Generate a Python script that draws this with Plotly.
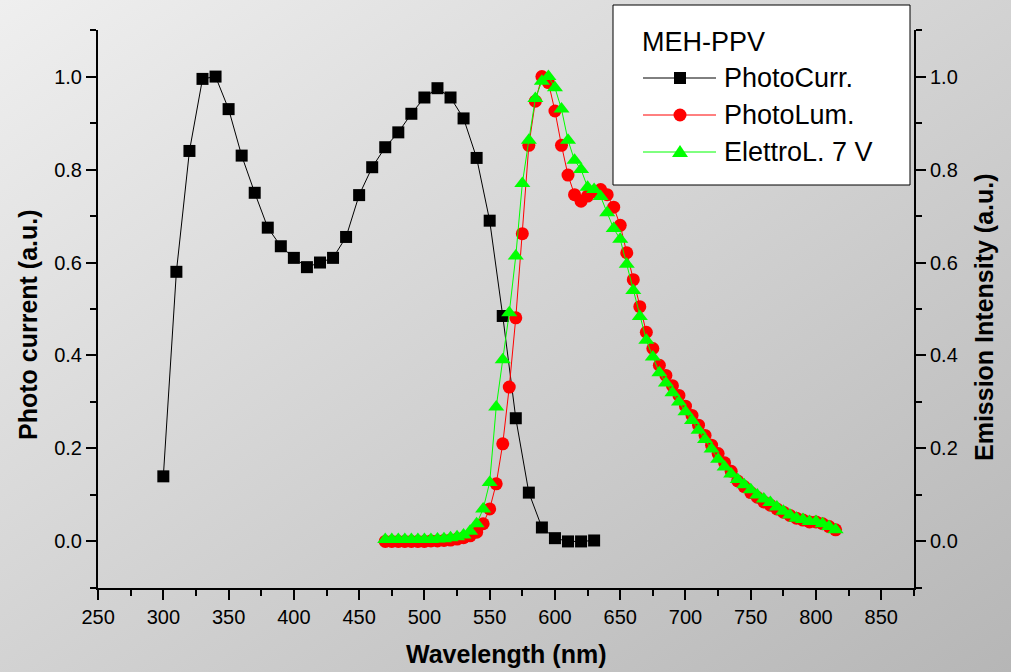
import base64
import plotly.graph_objects as go

# ---------------- data ----------------
pc_wavelength = [300, 310, 320, 330, 340, 350, 360, 370, 380, 390, 400, 410, 420, 430,
                 440, 450, 460, 470, 480, 490, 500, 510, 520, 530, 540, 550, 560, 570,
                 580, 590, 600, 610, 620, 630]
pc_values = [0.14, 0.58, 0.84, 0.995, 1.0, 0.93, 0.83, 0.75, 0.675, 0.635, 0.61, 0.59, 0.60,
             0.61, 0.655, 0.745, 0.805, 0.848, 0.88, 0.92, 0.955, 0.975, 0.955, 0.91, 0.825,
             0.69, 0.485, 0.265, 0.105, 0.03, 0.007, 0.0, 0.0, 0.002]

em_wavelength = [470, 475, 480, 485, 490, 495, 500, 505, 510, 515, 520, 525, 530, 535, 540,
                 545, 550, 555, 560, 565, 570, 575, 580, 585, 590, 595, 600, 605, 610, 615,
                 620, 625, 630, 635, 640, 645, 650, 655, 660, 665, 670, 675, 680, 685, 690,
                 695, 700, 705, 710, 715, 720, 725, 730, 735, 740, 745, 750, 755, 760, 765,
                 770, 775, 780, 785, 790, 795, 800, 805, 810, 815]
pl_values = [0.0, 0.0, 0.0, 0.0, 0.0, 0.0, 0.0, 0.001, 0.001, 0.002, 0.003, 0.005, 0.008,
             0.012, 0.02, 0.038, 0.07, 0.124, 0.21, 0.332, 0.481, 0.662, 0.852, 0.947, 1.0,
             0.987, 0.926, 0.852, 0.788, 0.746, 0.732, 0.743, 0.752, 0.757, 0.746, 0.719,
             0.68, 0.621, 0.563, 0.505, 0.45, 0.415, 0.379, 0.357, 0.335, 0.314, 0.291,
             0.271, 0.25, 0.228, 0.207, 0.189, 0.169, 0.151, 0.13, 0.118, 0.105, 0.095,
             0.085, 0.078, 0.07, 0.063, 0.056, 0.05, 0.046, 0.042, 0.042, 0.038, 0.032, 0.025]
el_values = [0.004, 0.004, 0.004, 0.004, 0.004, 0.004, 0.004, 0.004, 0.005, 0.006, 0.008,
             0.01, 0.014, 0.022, 0.038, 0.07, 0.127, 0.289, 0.391, 0.492, 0.614, 0.77, 0.863,
             0.953, 0.99, 1.0, 0.976, 0.93, 0.863, 0.82, 0.80, 0.762, 0.757, 0.742, 0.707,
             0.673, 0.65, 0.596, 0.54, 0.484, 0.433, 0.397, 0.363, 0.341, 0.32, 0.30, 0.279,
             0.26, 0.239, 0.219, 0.199, 0.177, 0.16, 0.145, 0.133, 0.122, 0.111, 0.10, 0.091,
             0.084, 0.074, 0.065, 0.057, 0.05, 0.047, 0.043, 0.043, 0.038, 0.032, 0.025]

series_names = ["PhotoCurr.", "PhotoLum.", "ElettroL. 7 V"]
legend_title = "MEH-PPV"
x_title = "Wavelength (nm)"
y_title_left = "Photo current (a.u.)"
y_title_right = "Emission Intensity (a.u.)"

# ---------------- layout geometry ----------------
W, H = 1011, 672
L, R, T, B = 98, 914, 30, 588  # plot area in pixels
FONT = "Liberation Sans, Arial, sans-serif"


def px(x):
    return (x - L) / (R - L)


def py(y):
    return (B - y) / (B - T)


fig = go.Figure()

fig.add_trace(go.Scatter(
    x=pc_wavelength, y=pc_values, name=series_names[0], mode="lines+markers",
    line=dict(color="black", width=1),
    marker=dict(symbol="square", size=12, color="black"),
    showlegend=False, cliponaxis=False))
fig.add_trace(go.Scatter(
    x=em_wavelength, y=pl_values, name=series_names[1], mode="lines+markers",
    yaxis="y2",
    line=dict(color="#ff0000", width=1),
    marker=dict(symbol="circle", size=13, color="#ff0000"),
    showlegend=False, cliponaxis=False))
fig.add_trace(go.Scatter(
    x=em_wavelength, y=el_values, name=series_names[2], mode="lines+markers",
    yaxis="y2",
    line=dict(color="#00ff00", width=1),
    marker=dict(symbol="triangle-up", size=14, color="#00ff00"),
    showlegend=False, cliponaxis=False))

axis_common = dict(
    showline=True, linecolor="black", linewidth=2,
    ticks="outside", ticklen=10, tickwidth=2, tickcolor="black",
    showgrid=False, zeroline=False,
    tickfont=dict(family=FONT, size=20, color="black"),
)

yrange = [-0.1002, 1.1002]

fig.update_layout(
    width=W, height=H,
    margin=dict(l=L, r=W - R, t=T, b=H - B, pad=0),
    paper_bgcolor="#d4d4d4",
    plot_bgcolor="rgba(0,0,0,0)",
    showlegend=False,
    xaxis=dict(range=[249.95, 875.05], tick0=250, dtick=50,
               minor=dict(dtick=25, tick0=250, ticks="outside", ticklen=6,
                          tickwidth=2, tickcolor="black", showgrid=False),
               ticklabelstandoff=0,
               **axis_common),
    yaxis=dict(range=yrange, tick0=0, dtick=0.2, tickformat=".1f",
               minor=dict(dtick=0.1, tick0=0, ticks="outside", ticklen=6,
                          tickwidth=2, tickcolor="black", showgrid=False),
               ticklabelstandoff=0,
               **axis_common),
    yaxis2=dict(range=yrange, tick0=0, dtick=0.2, tickformat=".1f",
                overlaying="y", side="right", anchor="x",
                minor=dict(dtick=0.1, tick0=0, ticks="outside", ticklen=6,
                           tickwidth=2, tickcolor="black", showgrid=False),
                ticklabelstandoff=0,
                **axis_common),
)

# gradient background
svg = ('<svg xmlns="http://www.w3.org/2000/svg" width="1011" height="672">'
       '<defs><linearGradient id="g" x1="0" y1="0" x2="1" y2="1">'
       '<stop offset="0" stop-color="#efefef"/>'
       '<stop offset="1" stop-color="#b6b6b6"/>'
       '</linearGradient></defs>'
       '<rect width="1011" height="672" fill="url(#g)"/></svg>')
uri = "data:image/svg+xml;base64," + base64.b64encode(svg.encode()).decode()
fig.add_layout_image(dict(
    source=uri, xref="paper", yref="paper",
    x=px(0), y=py(0), sizex=W / (R - L), sizey=H / (B - T),
    xanchor="left", yanchor="top", sizing="stretch", layer="below", opacity=1))

# axis titles
title_font = dict(family=FONT, size=25, color="black")
fig.add_annotation(text="<b>%s</b>" % x_title, xref="paper", yref="paper",
                   x=px(506), y=py(654), xanchor="center", yanchor="middle",
                   showarrow=False, font=title_font)
fig.add_annotation(text="<b>%s</b>" % y_title_left, xref="paper", yref="paper",
                   x=px(28), y=py(325), xanchor="center", yanchor="middle",
                   textangle=-90, showarrow=False, font=title_font)
fig.add_annotation(text="<b>%s</b>" % y_title_right, xref="paper", yref="paper",
                   x=px(984), y=py(317), xanchor="center", yanchor="middle",
                   textangle=-90, showarrow=False, font=title_font)

# custom legend box
fig.add_shape(type="rect", xref="paper", yref="paper",
              x0=px(613), x1=px(910), y0=py(185), y1=py(5),
              line=dict(color="black", width=1), fillcolor="white", layer="above")
leg_font = dict(family=FONT, size=27, color="black")
fig.add_annotation(text=legend_title, xref="paper", yref="paper",
                   x=px(640), y=py(42), xanchor="left", yanchor="middle",
                   showarrow=False, font=leg_font)
rows = [78, 115, 152]
colors = ["black", "#ff0000", "#00ff00"]
for i, (name, col, ry) in enumerate(zip(series_names, colors, rows)):
    fig.add_shape(type="line", xref="paper", yref="paper",
                  x0=px(643), x1=px(716), y0=py(ry), y1=py(ry),
                  line=dict(color=col, width=1), layer="above")
    if i == 0:
        fig.add_shape(type="rect", xref="paper", yref="paper",
                      xsizemode="pixel", ysizemode="pixel",
                      xanchor=px(680), yanchor=py(ry),
                      x0=-6, x1=6, y0=-6, y1=6,
                      line=dict(width=0), fillcolor=col, layer="above")
    elif i == 1:
        fig.add_shape(type="circle", xref="paper", yref="paper",
                      xsizemode="pixel", ysizemode="pixel",
                      xanchor=px(680), yanchor=py(ry),
                      x0=-6.5, x1=6.5, y0=-6.5, y1=6.5,
                      line=dict(width=0), fillcolor=col, layer="above")
    else:
        fig.add_shape(type="path", xref="paper", yref="paper",
                      xsizemode="pixel", ysizemode="pixel",
                      xanchor=px(680), yanchor=py(ry),
                      path="M-8,-5 L8,-5 L0,7 Z",
                      line=dict(width=0), fillcolor=col, layer="above")
    fig.add_annotation(text=name, xref="paper", yref="paper",
                       x=px(722), y=py(ry), xanchor="left", yanchor="middle",
                       showarrow=False, font=leg_font)

fig.write_html("out.html")
